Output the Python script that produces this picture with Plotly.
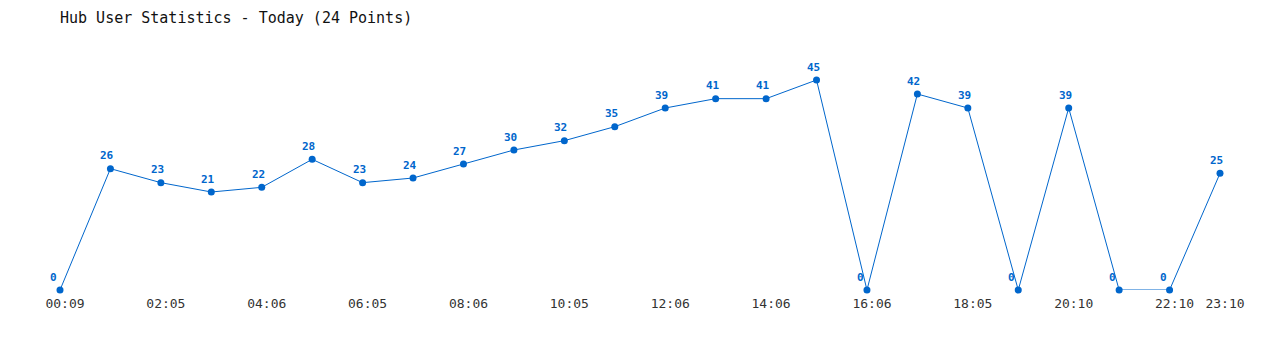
import plotly.graph_objects as go

# Data
times = ["00:09", "01:06", "02:05", "03:06", "04:06", "05:05", "06:05", "07:06",
         "08:06", "09:05", "10:05", "11:06", "12:06", "13:05", "14:06", "15:06",
         "16:06", "17:05", "18:05", "19:06", "20:10", "21:10", "22:10", "23:10"]
users = [0, 26, 23, 21, 22, 28, 23, 24, 27, 30, 32, 35, 39, 41, 41, 45,
         0, 42, 39, 0, 39, 0, 0, 25]
tick_labels = ["00:09", "02:05", "04:06", "06:05", "08:06", "10:05", "12:06",
               "14:06", "16:06", "18:05", "20:10", "22:10", "23:10"]

idx = list(range(len(times)))
tick_idx = [times.index(t) for t in tick_labels]

color = "#0066cc"
mono = "DejaVu Sans Mono, monospace"

fig = go.Figure()
fig.add_trace(go.Scatter(
    x=idx, y=users, mode="lines+markers",
    line=dict(color=color, width=1),
    marker=dict(color=color, size=7),
    cliponaxis=False, hoverinfo="skip",
))

annotations = []
for i, v in zip(idx, users):
    annotations.append(dict(
        x=i, y=v, xref="x", yref="y", text=str(v), showarrow=False,
        xanchor="left", yanchor="middle", xshift=-12, yshift=13,
        font=dict(family=mono, size=11, color=color, weight="bold"),
    ))

fig.update_layout(
    width=1280, height=350,
    margin=dict(l=60, r=60, t=80, b=60),
    paper_bgcolor="white", plot_bgcolor="white",
    showlegend=False,
    title=dict(text="Hub User Statistics - Today (24 Points)",
               x=60 / 1280, xanchor="left", y=1 - 18 / 350, yanchor="middle",
               font=dict(family=mono, size=15, color="#111111")),
    xaxis=dict(range=[0, 23], tickmode="array", tickvals=tick_idx, ticktext=tick_labels,
               showgrid=False, zeroline=False, showline=False, ticks="",
               ticklabelshift=5, ticklabelstandoff=4,
               tickfont=dict(family=mono, size=13, color="#333333")),
    yaxis=dict(range=[0, 45], showgrid=False, zeroline=False, showline=False,
               showticklabels=False, ticks=""),
    annotations=annotations,
)

fig.write_html("out.html")
